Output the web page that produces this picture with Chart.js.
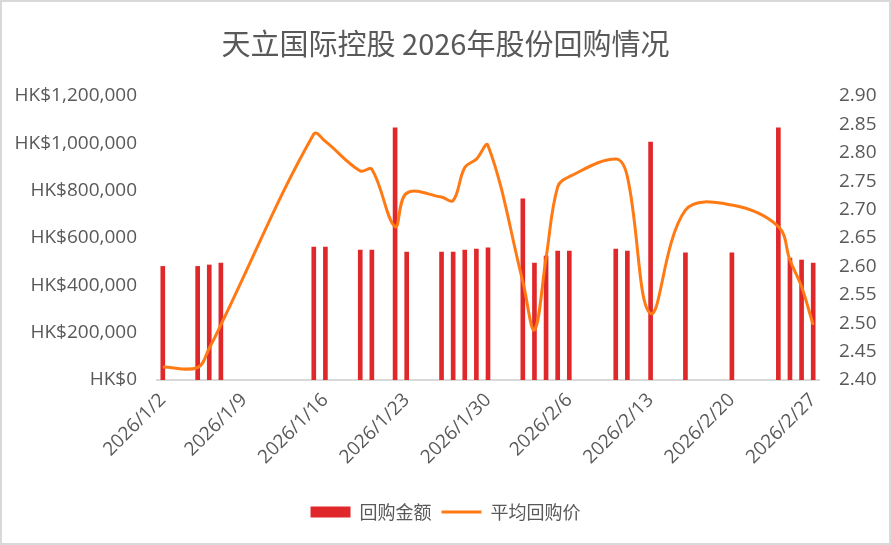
<!DOCTYPE html>
<html>
<head>
<meta charset="utf-8">
<script src="https://cdn.jsdelivr.net/npm/chart.js@4/dist/chart.umd.min.js"></script>
<style>
  html, body { margin: 0; padding: 0; background: #fff; }
  #wrap { width: 891px; height: 545px; position: relative; }
</style>
</head>
<body>
<div id="wrap"><canvas id="c" width="891" height="545"></canvas></div>
<script>
// ---- data ----
const titleText = '天立国际控股 2026年股份回购情况';
const seriesNames = ['回购金额', '平均回购价'];
const dates = ['2026/1/2','2026/1/5','2026/1/6','2026/1/7','2026/1/15','2026/1/16','2026/1/19','2026/1/20',
  '2026/1/22','2026/1/23','2026/1/26','2026/1/27','2026/1/28','2026/1/29','2026/1/30',
  '2026/2/2','2026/2/3','2026/2/4','2026/2/5','2026/2/6','2026/2/10','2026/2/11',
  '2026/2/13','2026/2/16','2026/2/20','2026/2/24','2026/2/25','2026/2/26','2026/2/27'];
const amounts = [480000,480000,486000,494000,562000,562000,549000,549000,
  1065000,541000,541000,541000,549000,553000,558000,
  765000,494000,524000,545000,545000,553000,545000,
  1005000,537000,537000,1065000,515000,507000,494000];
const prices = [2.423,2.422,2.456,2.497,2.833,2.820,2.768,2.771,
  2.670,2.729,2.722,2.716,2.774,2.789,2.813,
  2.573,2.488,2.615,2.740,2.758,2.789,2.758,
  2.517,2.699,2.708,2.670,2.611,2.564,2.497];
const xTickLabels = ['2026/1/2','2026/1/9','2026/1/16','2026/1/23','2026/1/30','2026/2/6','2026/2/13','2026/2/20','2026/2/27'];
const leftTicks = [0,200000,400000,600000,800000,1000000,1200000];
const rightTicks = [2.40,2.45,2.50,2.55,2.60,2.65,2.70,2.75,2.80,2.85,2.90];

// day offsets from first date (derived from date strings)
function dayNum(s){ const p = s.split('/').map(Number); return Date.UTC(p[0], p[1]-1, p[2]) / 86400000; }
const d0 = dayNum(dates[0]);
const xDays = dates.map(s => dayNum(s) - d0);
const xTickDays = xTickLabels.map(s => dayNum(s) - d0);

const textColor = '#595959';
const tickFont = { family: '"Open Sans", "Noto Sans", sans-serif', size: 19 };

const borderPlugin = {
  id: 'pageBorder',
  beforeDraw(chart) {
    const ctx = chart.ctx;
    ctx.save();
    ctx.fillStyle = '#ffffff';
    ctx.fillRect(0, 0, chart.width, chart.height);
    ctx.strokeStyle = '#d9d9d9';
    ctx.lineWidth = 2;
    ctx.strokeRect(1, 1, chart.width - 2, chart.height - 2);
    ctx.restore();
  }
};

new Chart(document.getElementById('c'), {
  data: {
    datasets: [
      {
        type: 'line',
        label: seriesNames[1],
        data: xDays.map((x, i) => ({ x: x, y: prices[i] })),
        yAxisID: 'y1',
        borderColor: '#ff7a14',
        backgroundColor: '#ff7a14',
        borderWidth: 3,
        pointRadius: 0,
        pointHoverRadius: 0,
        pointStyle: 'line',
        tension: 0.38,
        order: 0
      },
      {
        type: 'bar',
        label: seriesNames[0],
        data: xDays.map((x, i) => ({ x: x, y: amounts[i] })),
        yAxisID: 'y',
        backgroundColor: '#e0282a',
        borderWidth: 0,
        barThickness: 4,
        pointStyle: 'rect',
        order: 1
      }
    ]
  },
  options: {
    responsive: false,
    animation: false,
    devicePixelRatio: 1,
    layout: { padding: { left: 0, right: 0, top: 0, bottom: 14 } },
    plugins: {
      title: {
        display: true,
        text: titleText,
        color: textColor,
        font: { family: '"Noto Sans CJK SC", sans-serif', size: 29, weight: 'normal' },
        padding: { top: 26.6, bottom: 34.6 }
      },
      legend: {
        display: true,
        position: 'bottom',
        reverse: true,
        labels: {
          color: textColor,
          font: { family: '"Noto Sans CJK SC", sans-serif', size: 18 },
          usePointStyle: true,
          pointStyleWidth: 40,
          boxHeight: 11,
          padding: 10
        }
      },
      tooltip: { enabled: false }
    },
    scales: {
      x: {
        type: 'linear',
        min: -0.5,
        max: 56.5,
        offset: false,
        grid: { display: false, drawTicks: false },
        border: { display: true, color: '#d9d9d9', width: 2 },
        afterBuildTicks(scale) { scale.ticks = xTickDays.map(v => ({ value: v })); },
        afterFit(scale) { scale.height = 113; },
        ticks: {
          color: textColor,
          font: tickFont,
          minRotation: 45,
          maxRotation: 45,
          autoSkip: false,
          padding: 9,
          callback: (v) => { const i = xTickDays.indexOf(v); return i >= 0 ? xTickLabels[i] : ''; }
        }
      },
      y: {
        position: 'left',
        min: 0,
        max: 1200000,
        grid: { display: false, drawTicks: false },
        border: { display: false },
        afterBuildTicks(scale) { scale.ticks = leftTicks.map(v => ({ value: v })); },
        afterFit(scale) { scale.width = 157; },
        ticks: {
          color: textColor,
          font: tickFont,
          padding: 20,
          callback: (v) => 'HK$' + Number(v).toLocaleString('en-US')
        }
      },
      y1: {
        position: 'right',
        min: 2.4,
        max: 2.9,
        grid: { display: false, drawTicks: false },
        border: { display: false },
        afterBuildTicks(scale) { scale.ticks = rightTicks.map(v => ({ value: v })); },
        afterFit(scale) { scale.width = 72; },
        ticks: {
          color: textColor,
          font: tickFont,
          padding: 20,
          callback: (v) => Number(v).toFixed(2)
        }
      }
    }
  },
  plugins: [borderPlugin]
});
</script>
</body>
</html>
